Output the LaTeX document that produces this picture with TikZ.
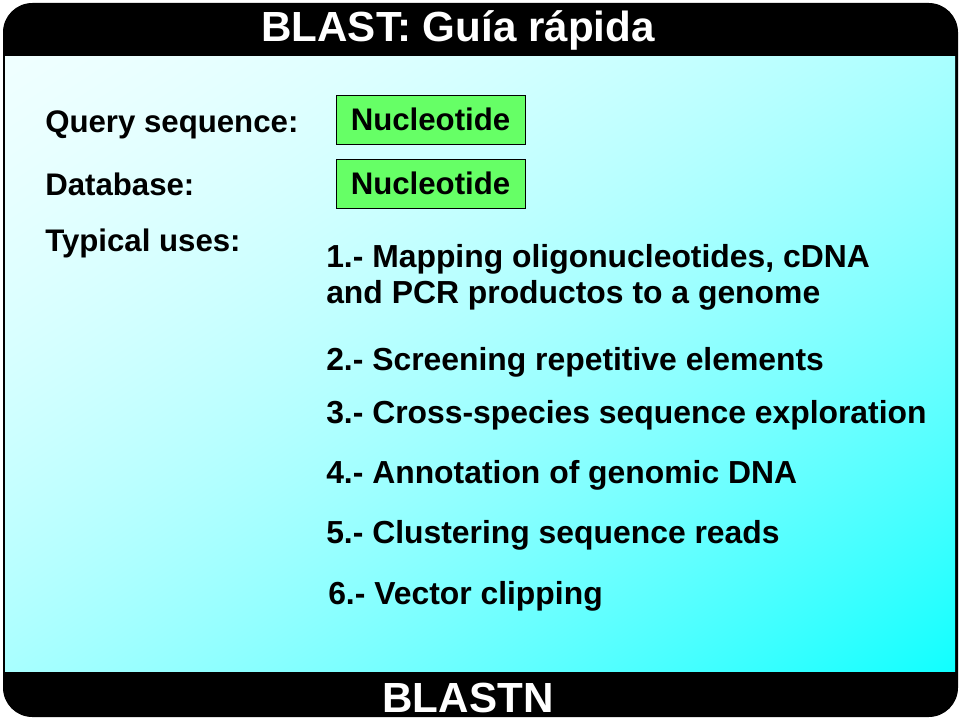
\documentclass[tikz,border=0pt]{standalone}
\usepackage{fontspec}
\setmainfont{Liberation Sans}
\usepackage{tikz}
\definecolor{boxgreen}{RGB}{102,255,102}
\pgfdeclarefunctionalshading{panelshade}{\pgfpointorigin}{\pgfpoint{100bp}{100bp}}{}{
  75 exch sub 50 div exch 25 sub 50 div add 2 div
  dup dup mul -0.634 mul exch -0.243 mul add 0.94 add
  1 1
}
\tikzset{
  bartext/.style={text=white, inner sep=0pt, anchor=base, font=\fontsize{31.6}{36}\selectfont\bfseries},
  fieldtext/.style={inner sep=0pt, anchor=base west, align=left, font=\fontsize{23.4}{27.75}\selectfont\bfseries},
  usetext/.style={fieldtext, font=\fontsize{23.9}{27.75}\selectfont\bfseries},
  seqbox/.style={draw=black, fill=boxgreen, inner sep=0pt, minimum width=141.75pt, minimum height=36.75pt, font=\fontsize{23.4}{27.75}\selectfont\bfseries}
}

\begin{document}
\begin{tikzpicture}[x=0.75pt, y=-0.75pt]
          \useasboundingbox (0,0) rectangle (960,720);
          \fill[black, rounded corners=22pt] (3,3) rectangle (958,717);
          \shade[shading=panelshade] (5,57) rectangle (955,671);
          \node[bartext] (title) at (458,42) {BLAST: Guía rápida};
          \node[bartext] (program) at (468,712) {BLASTN};
          \node[fieldtext] (query) at (45,133) {Query sequence:};
          \node[fieldtext] (database) at (45,196) {Database:};
          \node[fieldtext] (uses) at (45,252) {Typical uses:};
          \node[seqbox] (querybox) at (430.5,119.5) {Nucleotide};
          \node[seqbox] (databox) at (430.5,183.5) {Nucleotide};
          \node[usetext] (use1) at (326,304) {1.- Mapping oligonucleotides, cDNA\\and PCR productos to a genome};
          \node[usetext] (use2) at (326,370) {2.- Screening repetitive elements};
          \node[usetext] (use3) at (326,423) {3.- Cross-species sequence exploration};
          \node[usetext] (use4) at (326,483) {4.- Annotation of genomic DNA};
          \node[usetext] (use5) at (326,543) {5.- Clustering sequence reads};
          \node[usetext] (use6) at (328,604) {6.- Vector clipping};
        \end{tikzpicture}
\end{document}
